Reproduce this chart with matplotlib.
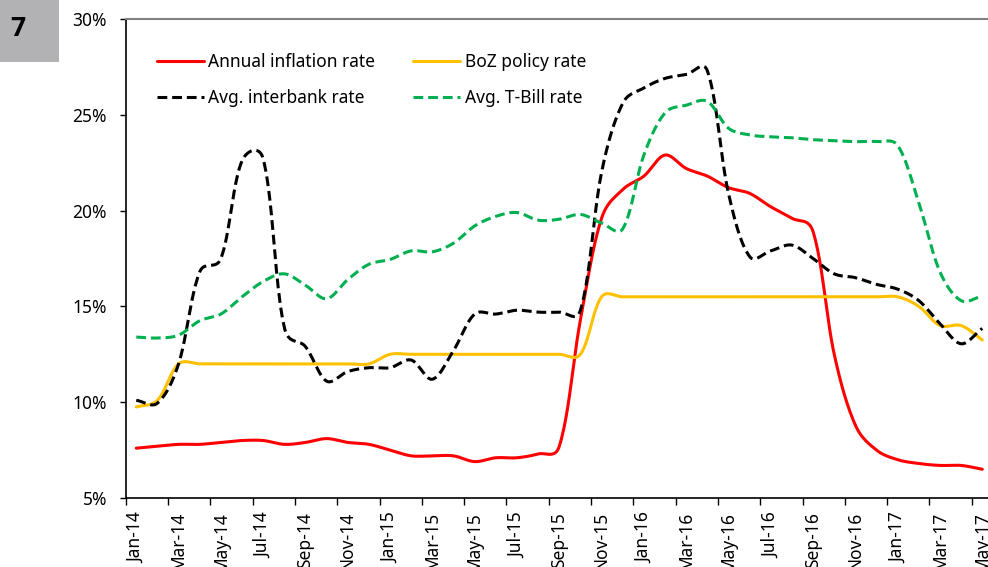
import numpy as np
import matplotlib
matplotlib.use("Agg")
import matplotlib.pyplot as plt
from matplotlib.patches import Rectangle

plt.rcParams['font.family'] = ['Noto Sans', 'DejaVu Sans']

months = ["Jan-14", "Feb-14", "Mar-14", "Apr-14", "May-14", "Jun-14", "Jul-14", "Aug-14",
          "Sep-14", "Oct-14", "Nov-14", "Dec-14", "Jan-15", "Feb-15", "Mar-15", "Apr-15",
          "May-15", "Jun-15", "Jul-15", "Aug-15", "Sep-15", "Oct-15", "Nov-15", "Dec-15",
          "Jan-16", "Feb-16", "Mar-16", "Apr-16", "May-16", "Jun-16", "Jul-16", "Aug-16",
          "Sep-16", "Oct-16", "Nov-16", "Dec-16", "Jan-17", "Feb-17", "Mar-17", "Apr-17",
          "May-17"]

inflation = [7.6, 7.7, 7.8, 7.8, 7.9, 8.0, 8.0, 7.8, 7.9, 8.1, 7.9, 7.8,
             7.5, 7.2, 7.2, 7.2, 6.9, 7.1, 7.1, 7.3, 7.7, 14.3, 19.6, 21.1,
             21.8, 22.9, 22.2, 21.8, 21.2, 20.9, 20.2, 19.6, 18.9, 12.5, 8.8, 7.5,
             7.0, 6.8, 6.7, 6.7, 6.5]

policy = [9.75, 10.1, 12.0, 12.0, 12.0, 12.0, 12.0, 12.0, 12.0, 12.0, 12.0, 12.0,
          12.5, 12.5, 12.5, 12.5, 12.5, 12.5, 12.5, 12.5, 12.5, 12.5, 15.5, 15.5,
          15.5, 15.5, 15.5, 15.5, 15.5, 15.5, 15.5, 15.5, 15.5, 15.5, 15.5, 15.5,
          15.5, 15.0, 14.0, 14.0, 13.25]

interbank = [10.1, 9.95, 12.0, 16.8, 17.5, 22.6, 22.7, 13.9, 12.9, 11.1, 11.6, 11.8,
             11.8, 12.2, 11.2, 12.7, 14.6, 14.6, 14.8, 14.7, 14.7, 14.8, 22.0, 25.6,
             26.4, 26.9, 27.1, 27.3, 20.9, 17.6, 17.9, 18.2, 17.5, 16.7, 16.5, 16.15,
             15.9, 15.3, 14.1, 13.05, 13.85]

tbill = [13.4, 13.35, 13.5, 14.25, 14.6, 15.5, 16.3, 16.7, 16.1, 15.4, 16.4, 17.2,
         17.45, 17.9, 17.85, 18.3, 19.2, 19.7, 19.9, 19.5, 19.55, 19.8, 19.35, 19.05,
         22.9, 25.1, 25.5, 25.7, 24.3, 23.95, 23.85, 23.8, 23.7, 23.65, 23.6, 23.6,
         23.4, 20.4, 16.8, 15.3, 15.55]

series_names = ["Annual inflation rate", "BoZ policy rate", "Avg. interbank rate", "Avg. T-Bill rate"]

W, H = 988, 567
fig = plt.figure(figsize=(W / 100, H / 100), dpi=100)

# axes geometry (pixels)
px_month = 21.15
left_px = 125.7
right_px = left_px + 41 * px_month
top_px, bot_px = 19, 498
ax = fig.add_axes([left_px / W, 1 - bot_px / H, (right_px - left_px) / W, (bot_px - top_px) / H])
px_pct = (bot_px - top_px) / 25.0


def smooth(xs, ys, n=24):
    """Smooth curve through points (Bezier with length-weighted tangents, in pixel space)."""
    P = np.column_stack([np.asarray(xs, float) * px_month, np.asarray(ys, float) * px_pct])
    m = len(P)
    cin = P.copy()
    cout = P.copy()
    for i in range(m):
        if i == 0:
            cout[i] = P[i] + (P[1] - P[0]) / 3.0
            continue
        if i == m - 1:
            cin[i] = P[i] - (P[i] - P[i - 1]) / 3.0
            continue
        d = P[i + 1] - P[i - 1]
        l1 = np.sqrt(np.hypot(*(P[i] - P[i - 1])))
        l2 = np.sqrt(np.hypot(*(P[i + 1] - P[i])))
        cin[i] = P[i] - d / 3.0 * l1 / (l1 + l2)
        cout[i] = P[i] + d / 3.0 * l2 / (l1 + l2)
    out = []
    t = np.linspace(0, 1, n)[:, None]
    for i in range(m - 1):
        b = ((1 - t) ** 3) * P[i] + 3 * ((1 - t) ** 2) * t * cout[i] + 3 * (1 - t) * t ** 2 * cin[i + 1] + t ** 3 * P[i + 1]
        out.append(b if i == 0 else b[1:])
    out = np.vstack(out)
    return out[:, 0] / px_month, out[:, 1] / px_pct


x = np.arange(len(months))
lw = 2.2
styles = [
    dict(color="#FF0000", lw=lw, ls="-"),
    dict(color="#FFC000", lw=lw, ls="-"),
    dict(color="#000000", lw=lw, ls=(0, (3.2, 1.6))),
    dict(color="#00B050", lw=lw, ls=(0, (3.2, 1.6))),
]
handles = []
for vals, name, st in zip([inflation, policy, interbank, tbill], series_names, styles):
    sx, sy = smooth(x, vals)
    ln, = ax.plot(sx, sy, color=st["color"], lw=st["lw"], ls=st["ls"],
                  solid_capstyle="round", dash_capstyle="butt", label=name)
    handles.append(ln)

ax.set_xlim(-0.5, 40.5)
ax.set_ylim(5, 30)

# y axis
yt = [5, 10, 15, 20, 25, 30]
ax.set_yticks(yt)
ax.set_yticklabels([f"{v}%" for v in yt])
ax.tick_params(axis="y", direction="out", length=4.5, width=1, pad=9, labelsize=12.5, colors="black")

# x axis: tick marks at category boundaries, labels at category centres
ax.set_xticks(np.arange(-0.5, 40.5, 2))
ax.set_xticklabels([])
ax.set_xticks(x[::2], minor=True)
ax.set_xticklabels(months[::2], minor=True, rotation=90)
ax.tick_params(axis="x", which="major", direction="out", length=5, width=1)
ax.tick_params(axis="x", which="minor", length=0, pad=10, labelsize=12.5)

for s in ["left", "bottom"]:
    ax.spines[s].set_color("black")
    ax.spines[s].set_linewidth(1.2)
for s in ["top", "right"]:
    ax.spines[s].set_color("#808080")
    ax.spines[s].set_linewidth(1.5)

# legend: row1 inflation / BoZ, row2 interbank / T-bill
order = [0, 2, 1, 3]
leg = ax.legend([handles[i] for i in order], [series_names[i] for i in order],
                ncol=2, loc="upper left", bbox_to_anchor=(157 / W, 1 - 53 / H),
                bbox_transform=fig.transFigure, frameon=False, fontsize=12.5,
                handlelength=2.7, handletextpad=0.25, columnspacing=2.2,
                labelspacing=1.05, borderpad=0, borderaxespad=0)

# figure number box
fig.patches.append(Rectangle((0, 1 - 62 / H), 59 / W, 62 / H, transform=fig.transFigure,
                             facecolor="#B2B2B4", edgecolor="none"))
fig.text(18 / W, 1 - 28 / H, "7", fontsize=19, fontweight="bold",
         family=["Open Sans", "DejaVu Sans"], ha="center", va="center")

fig.savefig("out.png", dpi=100)
